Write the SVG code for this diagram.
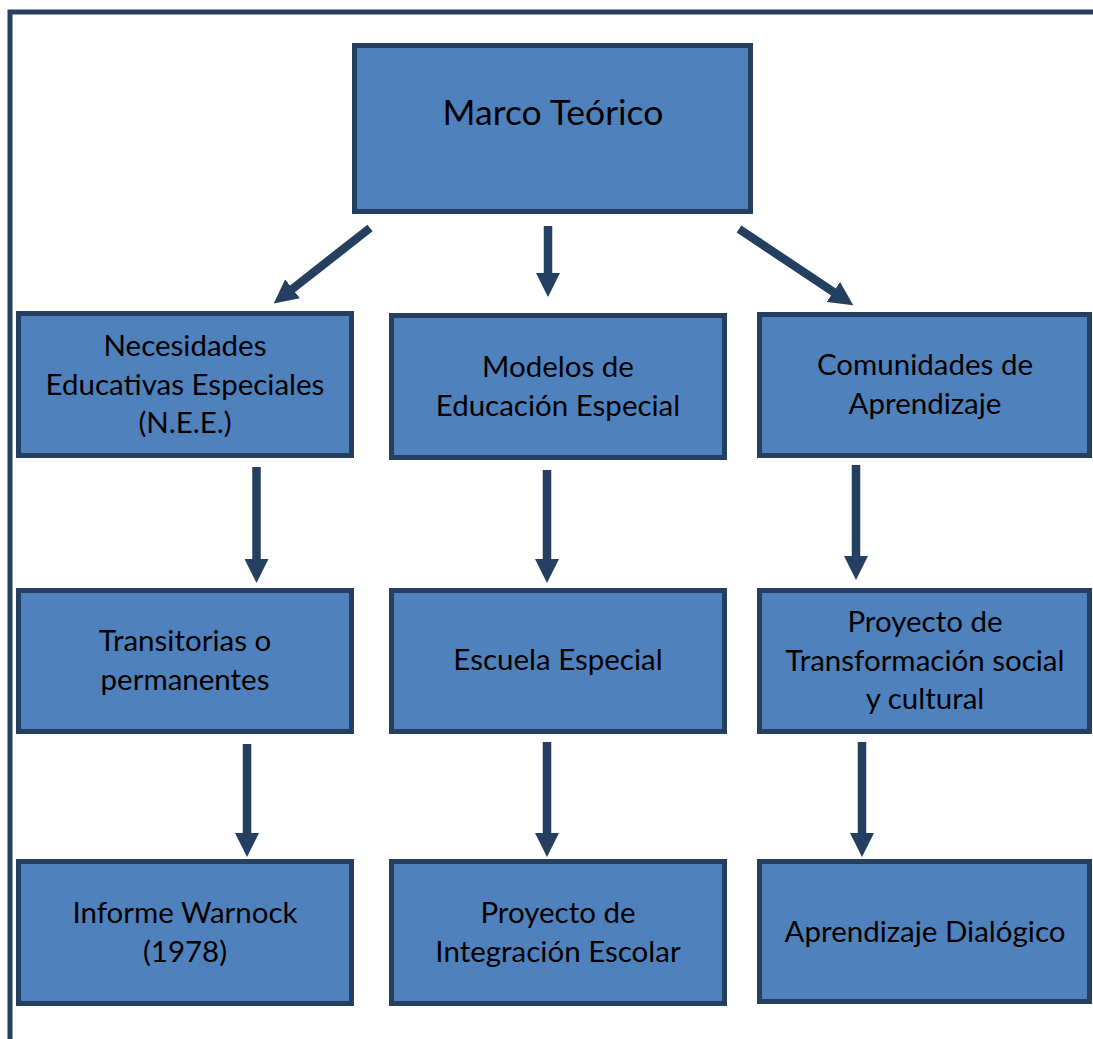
<svg xmlns="http://www.w3.org/2000/svg" width="1093" height="1039" viewBox="0 0 1093 1039">
  <style>
    .box { fill: #4F81BD; stroke: #243F60; stroke-width: 5; }
    .lbl { font-family: Lato, "Open Sans", "Liberation Sans", sans-serif; font-size: 29.5px; fill: #000; text-anchor: middle; }
    .title { font-size: 35.5px; }
    .arrow { stroke: #243F60; stroke-width: 8.5; fill: none; marker-end: url(#head); }
  </style>
  <defs>
    <marker id="head" markerUnits="userSpaceOnUse" markerWidth="24" markerHeight="24" refX="2" refY="12" orient="auto">
      <path d="M0,0 L24,12 L0,24 z" fill="#243F60"/>
    </marker>
  </defs>

  <rect width="1093" height="1039" fill="#fff"/>
  <!-- page frame -->
  <path d="M10,1039 V12 H1093" fill="none" stroke="#243F60" stroke-width="5"/>

  <g id="marco">
    <rect class="box" x="354.5" y="45.5" width="396" height="166"/>
    <text class="lbl title" x="553" y="125">Marco Teórico</text>
  </g>

  <g id="nee">
    <rect class="box" x="18.5" y="313.5" width="333" height="142"/>
    <text class="lbl" x="185" y="356">Necesidades</text>
    <text class="lbl" x="185" y="395">Educativas Especiales</text>
    <text class="lbl" x="185" y="433">(N.E.E.)</text>
  </g>
  <g id="modelos">
    <rect class="box" x="391.5" y="315.5" width="333" height="142"/>
    <text class="lbl" x="558" y="377">Modelos de</text>
    <text class="lbl" x="558" y="416">Educación Especial</text>
  </g>
  <g id="comunidades">
    <rect class="box" x="759.5" y="314.5" width="330" height="141"/>
    <text class="lbl" x="925" y="375">Comunidades de</text>
    <text class="lbl" x="925" y="414">Aprendizaje</text>
  </g>

  <g id="transitorias">
    <rect class="box" x="18.5" y="590.5" width="333" height="141"/>
    <text class="lbl" x="185" y="651">Transitorias o</text>
    <text class="lbl" x="185" y="690">permanentes</text>
  </g>
  <g id="escuela">
    <rect class="box" x="391.5" y="590.5" width="333" height="141"/>
    <text class="lbl" x="558" y="670">Escuela Especial</text>
  </g>
  <g id="transformacion">
    <rect class="box" x="759.5" y="590.5" width="330" height="141"/>
    <text class="lbl" x="925" y="632">Proyecto de</text>
    <text class="lbl" x="925" y="671">Transformación social</text>
    <text class="lbl" x="925" y="709">y cultural</text>
  </g>

  <g id="warnock">
    <rect class="box" x="18.5" y="861.5" width="333" height="142"/>
    <text class="lbl" x="185" y="923">Informe Warnock</text>
    <text class="lbl" x="185" y="962">(1978)</text>
  </g>
  <g id="integracion">
    <rect class="box" x="391.5" y="861.5" width="333" height="142"/>
    <text class="lbl" x="558" y="923">Proyecto de</text>
    <text class="lbl" x="558" y="962">Integración Escolar</text>
  </g>
  <g id="dialogico">
    <rect class="box" x="759.5" y="861.5" width="330" height="140"/>
    <text class="lbl" x="925" y="942">Aprendizaje Dialógico</text>
  </g>

  <g id="connectors">
    <line class="arrow" x1="370" y1="228" x2="291" y2="290"/>
    <line class="arrow" x1="548" y1="226" x2="548" y2="275"/>
    <line class="arrow" x1="739" y1="229" x2="835" y2="293"/>

    <line class="arrow" x1="256.5" y1="467" x2="256.5" y2="561"/>
    <line class="arrow" x1="547" y1="470" x2="547" y2="561"/>
    <line class="arrow" x1="856" y1="465" x2="856" y2="558"/>

    <line class="arrow" x1="247" y1="744" x2="247" y2="835"/>
    <line class="arrow" x1="547" y1="742" x2="547" y2="835"/>
    <line class="arrow" x1="862" y1="742" x2="862" y2="835"/>
  </g>
</svg>
